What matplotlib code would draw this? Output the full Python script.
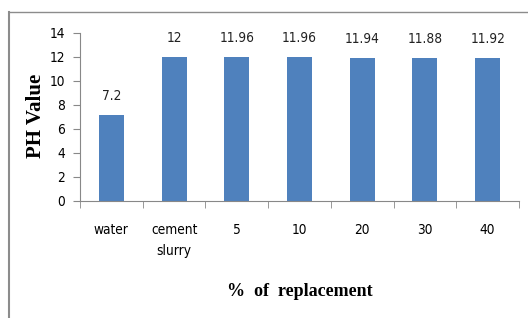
import matplotlib.pyplot as plt
from matplotlib.lines import Line2D
from matplotlib import font_manager

categories = ["water", "cement\nslurry", "5", "10", "20", "30", "40"]
ph_values = [7.2, 12, 11.96, 11.96, 11.94, 11.88, 11.92]
value_labels = ["7.2", "12", "11.96", "11.96", "11.94", "11.88", "11.92"]

# narrow font for tick labels if one is installed
narrow = [f for f in font_manager.fontManager.ttflist
          if ("Narrow" in f.name or "Condensed" in f.name or "condensed" in str(f.stretch))
          and f.style == "normal" and f.weight in ("normal", 400, "regular")]
if narrow:
    tick_kw = dict(family=narrow[0].name, stretch=narrow[0].stretch, size=9.8)
else:
    tick_kw = dict(family="Liberation Sans", size=9.5)

fig = plt.figure(figsize=(5.28, 3.18), dpi=100)
fig.lines.append(Line2D([9 / 528, 9 / 528], [0, 1 - 12 / 318], transform=fig.transFigure,
                        color="#8c8c8c", linewidth=1.5))
fig.lines.append(Line2D([9 / 528, 1], [1 - 12 / 318, 1 - 12 / 318], transform=fig.transFigure,
                        color="#8c8c8c", linewidth=1.0))

ax = fig.add_axes([80 / 528, 1 - 201 / 318, 439 / 528, 168 / 318])
x = range(len(categories))
ax.bar(x, ph_values, width=0.4, color="#4f81bd")
for xi, v, lab in zip(x, ph_values, value_labels):
    ax.text(xi, v + 1.0, lab, ha="center", va="bottom", color="#222222", **tick_kw)

ax.set_xlim(-0.5, len(categories) - 0.5)
ax.set_ylim(0, 14)
ax.set_yticks(range(0, 15, 2))
ax.set_xticks(x)
ax.set_xticklabels(categories, linespacing=1.6, **tick_kw)
ax.set_yticklabels([str(v) for v in range(0, 15, 2)], **tick_kw)
ax.set_xticks([i - 0.5 for i in range(len(categories) + 1)], minor=True)
ax.tick_params(axis="x", which="major", length=0, pad=16)
ax.tick_params(axis="x", which="minor", length=5, color="#888888")
ax.tick_params(axis="y", length=5, color="#888888", pad=6)

for s in ["top", "right"]:
    ax.spines[s].set_visible(False)
for s in ["left", "bottom"]:
    ax.spines[s].set_color("#888888")

fig.text(36 / 528, 1 - 116 / 318, "PH Value", rotation=90, ha="center", va="center",
         family="Liberation Serif", fontweight="bold", fontsize=15)
fig.text(300 / 528, 1 - 291 / 318, "%  of  replacement", ha="center", va="center",
         family="Liberation Serif", fontweight="bold", fontsize=13)

fig.savefig("out.png", dpi=100)
